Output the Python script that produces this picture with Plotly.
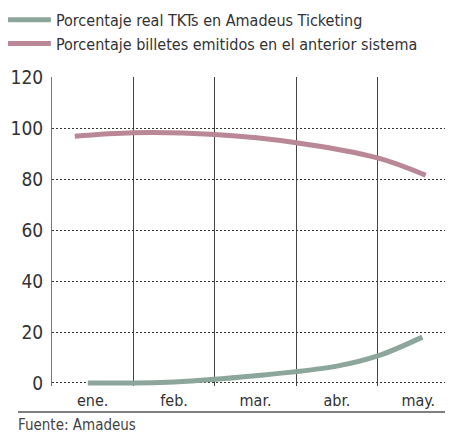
import plotly.graph_objects as go

months = ["ene.", "feb.", "mar.", "abr.", "may."]
month_pos = [0, 1, 2, 3, 4]

green_name = "Porcentaje real TKTs en Amadeus Ticketing"
green_x = [-0.06, 1, 2, 3, 3.5, 4.05]
green_y = [0.0, 0.4, 2.8, 6.6, 10.6, 18.0]

pink_name = "Porcentaje billetes emitidos en el anterior sistema"
pink_x = [-0.22, 0.5, 1.5, 2.5, 3.5, 4.09]
pink_y = [96.9, 98.3, 97.6, 94.4, 88.4, 81.6]

y_ticks = [0, 20, 40, 60, 80, 100, 120]
source = "Fuente: Amadeus"

FONT = "DejaVu Sans Condensed, Liberation Sans Narrow, sans-serif"
GREEN = "#8da69b"
PINK = "#ba8797"

fig = go.Figure()
fig.add_trace(go.Scatter(x=green_x, y=green_y, name=green_name, mode="lines",
                         line=dict(color=GREEN, width=5, shape="spline", smoothing=1.0)))
fig.add_trace(go.Scatter(x=pink_x, y=pink_y, name=pink_name, mode="lines",
                         line=dict(color=PINK, width=5, shape="spline", smoothing=1.0)))

boundaries = [p + 0.5 for p in month_pos[:-1]]

fig.update_layout(
    width=445, height=425,
    margin=dict(l=44, r=0, t=69, b=47, autoexpand=False),
    paper_bgcolor="white", plot_bgcolor="white",
    font=dict(family=FONT, size=16, color="#333"),
    showlegend=True,
    legend=dict(x=-0.125, y=1.24, xanchor="left", yanchor="top",
                font=dict(size=16, color="#333"), bgcolor="rgba(0,0,0,0)",
                itemwidth=44, tracegroupgap=0),
    xaxis=dict(range=[-0.5, 4.426], tickvals=month_pos, ticktext=months,
               showgrid=False, zeroline=False, showline=False, ticks="",
               ticklabelstandoff=3,
               tickfont=dict(size=16, color="#333"),
               minor=dict(tickvals=boundaries, showgrid=True, gridcolor="#444",
                          gridwidth=1, ticks="")),
    yaxis=dict(range=[-1.2, 120.2], tickvals=y_ticks, showgrid=True,
               gridcolor="#333", griddash="2px,2px", gridwidth=1,
               zeroline=False, showline=True, linecolor="#777", linewidth=1,
               ticks="", ticklabelstandoff=4,
               tickfont=dict(size=19, color="#333")),
)

fig.add_shape(type="line", xref="paper", yref="paper",
              x0=-34/401, x1=1.0, y0=-26/309, y1=-26/309,
              line=dict(color="#555", width=1.5))
fig.add_annotation(text=source, xref="paper", yref="paper",
                   x=-36/401, y=-28/309, xanchor="left", yanchor="top",
                   showarrow=False, font=dict(size=15, color="#444"))

fig.write_html("out.html")
